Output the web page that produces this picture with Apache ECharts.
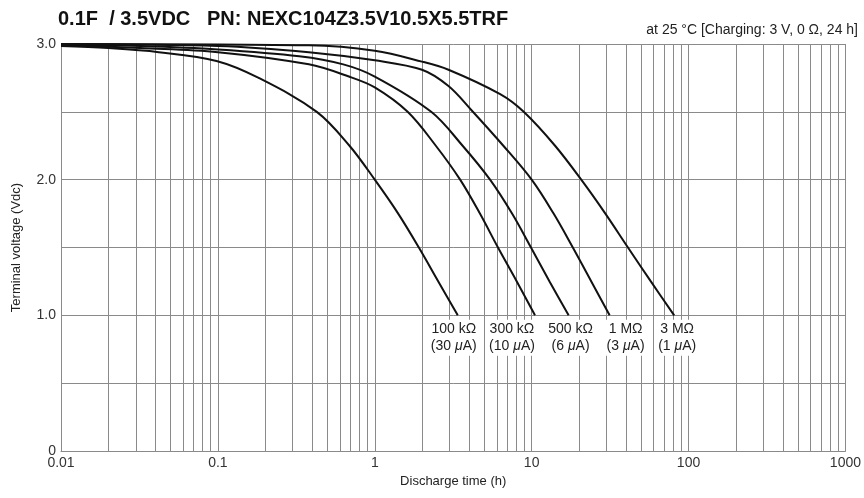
<!DOCTYPE html>
<html>
<head>
<meta charset="utf-8">
<script src="https://cdn.jsdelivr.net/npm/echarts@6/dist/echarts.min.js"></script>
<style>html,body{margin:0;padding:0;background:#fff}#c{width:864px;height:498px}</style>
</head>
<body>
<div id="c"></div>
<script>
// ---- data (discharge time in h, terminal voltage in V) ----
const seriesNames = ['100 kΩ', '300 kΩ', '500 kΩ', '1 MΩ', '3 MΩ'];
const currents = ['30', '10', '6', '3', '1'];

const t100k = [0.01, 0.02, 0.042, 0.098, 0.182, 0.427, 0.69, 1.0, 1.41, 1.91, 2.54, 3.38];
const v100k = [2.985, 2.97, 2.94, 2.875, 2.75, 2.5, 2.25, 2.0, 1.75, 1.5, 1.25, 1.0];

const t300k = [0.01, 0.032, 0.1, 0.38, 0.684, 1.0, 1.62, 2.45, 3.5, 4.68, 6.1, 8.04, 10.5];
const v300k = [2.995, 2.97, 2.94, 2.85, 2.76, 2.68, 2.5, 2.25, 2.0, 1.75, 1.5, 1.25, 1.0];

const t500k = [0.01, 0.032, 0.1, 0.33, 0.63, 1.0, 2.29, 3.63, 5.43, 7.5, 9.9, 13.0, 17.2];
const v500k = [2.998, 2.985, 2.96, 2.91, 2.85, 2.76, 2.5, 2.25, 2.0, 1.75, 1.5, 1.25, 1.0];

const t1M = [0.01, 0.1, 0.38, 1.0, 2.0, 2.95, 4.15, 6.6, 10.0, 13.8, 18.3, 24.0, 31.4];
const v1M = [3.0, 2.985, 2.94, 2.88, 2.81, 2.69, 2.51, 2.25, 2.0, 1.75, 1.5, 1.25, 1.0];

const t3M = [0.01, 0.38, 1.0, 2.0, 2.95, 6.3, 8.9, 14.1, 20.7, 29.5, 41.1, 57.5, 81.0];
const v3M = [3.0, 2.99, 2.95, 2.87, 2.81, 2.63, 2.5, 2.25, 2.0, 1.75, 1.5, 1.25, 1.0];

const xTicks = [0.01, 0.1, 1, 10, 100, 1000];
const yTickLabels = {0: '0', 1: '1.0', 2: '2.0', 3: '3.0'};

const times = [t100k, t300k, t500k, t1M, t3M];
const volts = [v100k, v300k, v500k, v1M, v3M];
const labelOffsets = [-4, -23, 2, 16, 3];

// minor grid lines for log axis (2..9 within each decade)
const minorLines = [];
for (let d = 0; d < xTicks.length - 1; d++) {
  for (let m = 2; m <= 9; m++) minorLines.push({xAxis: +(xTicks[d] * m).toPrecision(3)});
}

const labelFont = 'Liberation Sans';
const series = seriesNames.map((name, i) => {
  const data = times[i].map((t, j) => [t, volts[i][j]]);
  const last = data[data.length - 1];
  return {
    name, type: 'line', data, smooth: 0.35,
    showSymbol: false, symbol: 'none',
    lineStyle: {color: '#111', width: 2}, z: 5, animation: false,
    emphasis: {disabled: true},
    markPoint: {
      silent: true, animation: false,
      symbol: 'circle', symbolSize: 1, itemStyle: {color: 'rgba(0,0,0,0)'},
      data: [{coord: last}],
      label: {
        show: true, position: 'bottom', distance: 4,
        offset: [labelOffsets[i], 0],
        formatter: name + '\n(' + currents[i] + ' {i|μ}A)',
        backgroundColor: '#fff', padding: [1, 2, 1, 2],
        fontFamily: labelFont, fontSize: 14, lineHeight: 17, color: '#222', align: 'center',
        rich: {i: {fontStyle: 'italic', fontFamily: labelFont, fontSize: 14, lineHeight: 17, color: '#222'}}
      }
    }
  };
});
series.push({
  type: 'line', data: [], silent: true, animation: false,
  markLine: {
    silent: true, symbol: 'none', animation: false,
    lineStyle: {color: '#8a8a8a', width: 1, type: 'solid'},
    label: {show: false}, data: minorLines
  }
});

const chart = echarts.init(document.getElementById('c'), null, {renderer: 'canvas'});
chart.setOption({
  backgroundColor: '#fff',
  animation: false,
  grid: {left: 61, right: 15, top: 44, bottom: 47},
  graphic: [
    {type: 'text', left: 58, top: 9,
     style: {text: '0.1F  / 3.5VDC   PN: NEXC104Z3.5V10.5X5.5TRF', font: 'bold 20px "Liberation Sans"', fill: '#111'}},
    {type: 'text', right: 6, top: 23,
     style: {text: 'at 25 °C [Charging: 3 V, 0 Ω, 24 h]', font: '14px "Liberation Sans"', fill: '#222'}}
  ],
  xAxis: {
    type: 'log', logBase: 10, min: xTicks[0], max: xTicks[xTicks.length - 1],
    name: 'Discharge time (h)', nameLocation: 'middle', nameGap: 24,
    nameTextStyle: {fontFamily: labelFont, fontSize: 13, color: '#222'},
    axisLine: {lineStyle: {color: '#8a8a8a', width: 1}},
    axisTick: {show: false},
    axisLabel: {fontFamily: labelFont, fontSize: 14, color: '#333', margin: 5,
      formatter: v => String(+v.toPrecision(3))},
    splitLine: {show: true, lineStyle: {color: '#8a8a8a', width: 1}}
  },
  yAxis: {
    type: 'value', min: 0, max: 3, interval: 0.5,
    name: 'Terminal voltage (Vdc)', nameLocation: 'middle', nameGap: 38, nameRotate: 90,
    nameTextStyle: {fontFamily: labelFont, fontSize: 13, color: '#222'},
    axisLine: {show: true, lineStyle: {color: '#8a8a8a', width: 1}},
    axisTick: {show: false},
    axisLabel: {fontFamily: labelFont, fontSize: 14, color: '#333', margin: 5,
      formatter: v => (yTickLabels[v] !== undefined ? yTickLabels[v] : '')},
    splitLine: {show: true, lineStyle: {color: '#8a8a8a', width: 1}}
  },
  series
});
</script>
</body>
</html>
